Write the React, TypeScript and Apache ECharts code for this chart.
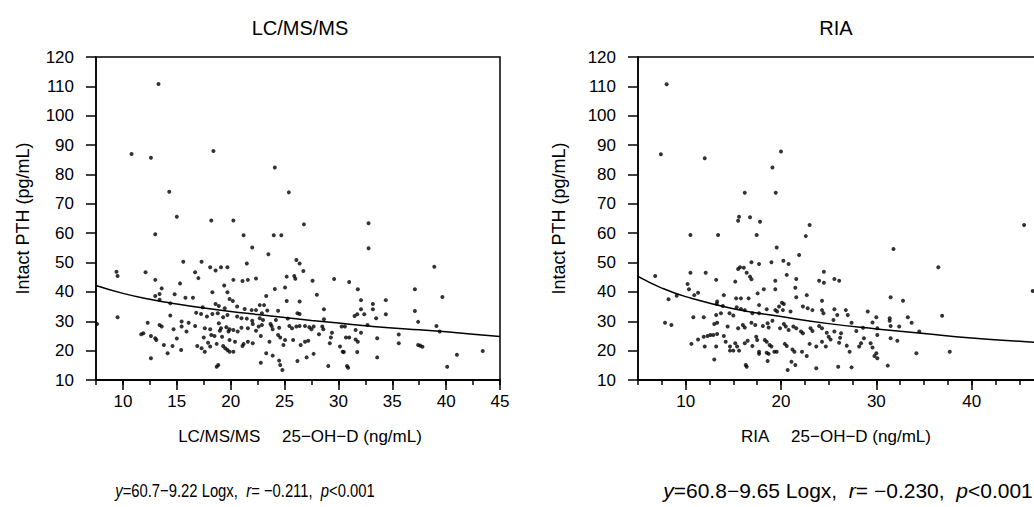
import React, { useEffect, useRef } from "react";
import * as echarts from "echarts";

// LC/MS/MS panel: 25-OH-D (x) vs intact PTH (y)
const lcX = [13.3,10.8,12.6,18.4,24.1,14.3,25.4,15.0,18.2,20.25,26.8,32.8,32.8,
13.0,21.2,24.0,24.7,22.0,23.5,15.6,17.3,21.5,26.1,26.4,26.75,18.1,18.6,19.1,19.7,16.7,17.0,12.1,9.4,9.5,20.25,21.1,21.6,22.35,25.2,25.9,26.0,13.0,15.3,19.4,24.1,25.05,13.6,13.4,13.0,13.4,14.8,15.8,16.5,14.4,18.3,19.7,19.9,20.2,20.6,21.3,21.95,22.35,22.7,23.1,23.3,23.4,22.9,25.2,26.4,26.2,26.4,
24.4,25.3,18.6,18.9,19.45,18.8,18.3,17.4,16.8,17.25,17.8,19.3,19.7,20.6,21.0,21.5,22.0,22.05,22.7,23.0,14.4,15.45,16.1,16.7,12.3,9.5,7.6,13.4,13.6,15.45,14.7,17.6,18.1,18.9,19.0,19.1,19.6,19.8,19.9,20.25,20.65,21.0,21.6,22.35,22.6,22.9,23.7,23.8,23.9,24.2,24.5,25.45,25.7,26.1,26.4,26.9,27.3,
11.7,11.9,12.6,13.0,13.1,13.8,14.6,15.0,15.9,16.9,17.5,17.3,17.6,17.9,18.1,18.7,18.2,18.5,19.2,19.3,19.5,19.7,19.9,20.25,19.9,20.4,21.2,21.1,21.6,22.05,22.8,23.6,24.4,24.6,25.05,24.9,25.8,26.5,26.9,27.2,12.6,14.15,15.4,18.85,18.7,22.8,23.3,23.9,24.5,24.6,24.8,26.2,27.05,
38.9,39.65,37.1,37.1,37.4,39.1,39.4,35.6,35.6,37.4,37.6,37.8,41.0,43.4,40.1,33.6,33.6,34.4,34.4,33.2,33.2,33.5,31.8,32.1,32.1,32.4,31.5,31.75,31.0,29.6,28.0,28.66,28.66,27.6,32.7,31.6,32.1,30.6,30.3,30.7,31.0,31.6,31.8,30.15,30.4,30.5,31.75,29.06,30.8,30.9,28.6,28.5,29.4,29.3,29.2,28.2,27.7,27.5,27.7];
const lcY = [110.8,87.0,85.7,88.0,82.4,74.1,73.9,65.6,64.3,64.3,63.0,63.4,54.9,
59.6,59.3,59.3,59.3,55.1,52.8,50.3,50.3,49.7,50.9,49.7,47.1,48.4,47.3,48.4,48.4,46.7,44.7,46.7,46.9,45.4,44.1,43.7,44.1,44.6,45.2,45.4,44.5,44.1,42.9,42.2,41.0,41.5,41.2,39.3,38.6,37.3,39.2,38.0,38.0,36.1,39.9,39.9,37.6,36.9,35.0,34.2,33.8,33.8,35.5,35.5,38.6,33.7,32.7,36.9,36.7,32.7,32.5,
33.6,30.9,35.9,35.2,34.4,32.7,32.5,34.8,32.9,32.5,31.6,31.4,32.1,31.6,31.0,30.9,30.2,29.1,31.0,30.4,32.0,29.9,29.5,28.4,29.5,31.4,29.1,28.7,28.2,28.2,27.3,27.6,27.3,29.3,26.8,27.6,28.0,26.5,27.3,27.0,26.5,27.8,27.6,26.8,28.2,28.7,29.1,28.4,27.3,30.4,27.8,28.4,27.6,28.2,28.4,28.4,28.0,
25.6,25.9,25.0,24.2,23.6,21.9,21.6,24.1,26.5,21.6,24.5,20.8,19.6,22.7,21.4,22.3,25.3,25.0,24.7,21.6,20.8,20.2,19.6,19.6,23.6,23.0,22.3,21.6,23.0,22.5,25.0,23.0,25.3,24.5,23.6,21.9,23.6,21.9,23.0,23.4,17.4,19.1,20.2,15.1,14.5,15.9,19.1,18.3,16.6,15.1,13.4,16.5,17.7,
48.6,38.3,40.9,33.5,29.8,28.4,26.5,25.5,22.5,21.9,21.7,21.3,18.6,19.9,14.5,24.2,17.7,37.2,32.4,35.9,34.1,31.0,40.9,37.2,34.1,32.4,31.8,32.4,43.4,44.4,39.0,34.1,30.7,43.8,28.7,27.0,26.1,28.2,28.2,24.5,24.5,23.8,23.0,21.4,19.6,19.5,19.5,14.8,14.8,14.2,27.3,28.2,26.1,24.5,22.5,25.6,28.2,27.3,18.9];

// RIA panel
const riaX = [8.0,7.4,12.0,20.0,19.1,16.2,19.45,15.6,15.5,16.75,17.8,23.0,10.5,13.4,17.45,22.6,19.55,21.9,16.9,17.7,19.0,20.25,20.8,15.5,15.7,16.1,16.4,16.75,16.9,24.5,10.5,12.1,20.6,6.8,13.2,15.2,19.4,21.6,24.0,24.5,10.2,10.35,18.2,19.4,21.5,11.3,10.9,17.55,9.06,14.0,15.3,15.8,16.6,22.7,21.6,8.2,24.3,13.3,13.26,20.1,20.3,19.8,20.2,17.7,18.5,19.4,19.6,22.3,22.8,23.3,24.3,24.45,21.0,13.9,13.7,15.35,15.8,16.2,14.6,15.0,17.0,17.7,
7.83,8.5,10.8,11.9,13.2,13.3,13.0,14.4,15.5,16.0,16.2,16.9,17.3,18.1,18.7,18.6,19.1,19.9,20.3,20.5,20.8,21.3,21.6,22.1,22.3,23.1,23.3,24.0,24.3,24.8,25.0,11.3,11.9,12.3,12.6,10.6,12.0,13.2,12.9,13.3,14.0,14.2,14.65,15.0,14.65,15.2,15.4,15.6,16.2,16.5,17.0,17.4,17.5,17.7,17.7,18.3,18.5,18.8,19.0,19.3,18.5,18.7,19.55,20.4,20.6,21.2,21.4,22.2,23.0,23.7,24.3,24.7,13.0,16.3,16.4,18.6,21.1,21.5,22.7,23.7,20.7,
31.8,36.5,45.5,46.4,25.6,26.1,31.5,32.8,36.9,25.6,26.8,27.0,29.1,30.0,29.6,31.4,31.4,33.3,33.7,32.4,31.5,30.1,30.1,27.4,27.9,28.6,34.5,31.5,32.2,28.7,28.4,28.2,29.4,29.6,26.9,27.2,26.1,26.2,25.2,30.0,29.8,30.1,34.2,37.7,31.2,27.4,26.0,25.5,25.9,25.6,26.3];
const riaY = [110.7,86.9,85.5,87.8,82.4,73.8,73.8,65.6,64.2,65.4,63.9,62.8,59.4,59.4,59.4,59.0,55.1,52.6,50.1,49.5,50.1,50.6,49.5,47.8,48.4,48.2,46.5,45.2,44.3,46.9,46.5,46.5,45.8,45.4,44.1,43.5,43.8,44.4,43.8,43.1,42.7,40.9,40.9,40.9,41.4,39.7,38.9,39.5,38.7,38.9,37.8,37.8,37.8,38.9,38.2,37.5,37.0,36.7,35.9,36.3,35.9,35.0,33.8,35.5,34.1,33.8,33.3,35.0,34.4,33.8,33.8,32.7,33.3,35.2,32.7,34.8,34.2,33.8,32.7,32.0,32.7,32.7,
29.5,28.7,31.4,31.4,32.1,29.5,29.1,28.2,27.6,28.7,27.9,29.5,28.7,28.4,27.9,29.3,30.2,27.6,29.1,28.2,27.0,28.2,27.6,26.5,25.9,27.6,26.7,28.4,27.6,26.1,24.7,23.8,24.7,25.0,25.3,22.3,21.4,21.4,25.3,25.7,25.0,23.0,21.4,20.0,20.0,22.5,21.4,20.0,22.5,23.4,21.6,24.7,23.6,19.6,18.9,23.6,23.0,21.9,21.4,19.6,19.3,18.9,19.6,22.3,21.6,20.4,19.6,19.6,22.3,21.4,23.0,21.4,17.0,15.1,14.5,16.5,16.2,15.1,18.2,14.0,13.4,
54.6,48.4,62.8,40.3,44.4,43.8,38.2,37.0,31.9,34.1,33.8,32.1,33.3,31.4,29.6,31.0,30.2,31.4,29.5,28.2,28.4,27.6,25.3,29.5,26.7,27.8,26.5,24.2,23.4,24.2,22.5,21.4,22.5,21.1,21.7,19.6,22.7,24.4,23.8,19.1,18.2,17.4,19.1,19.6,14.9,14.3,14.5,30.4,32.1,26.5,25.9];

// regression curves
const lcCurveX = [7.5,10,12.5,15,17.5,20,22.5,25,27.5,30,32.5,35,37.5,40,42.5,45];
const lcCurveY = [42.2,39.5,37.5,35.9,34.5,33.3,32.3,31.3,30.3,29.4,28.5,27.7,27.1,26.4,25.6,24.8];
const riaCurveX = [5,7.5,10,15,20,25,30,35,40,45,50];
const riaCurveY = [45.3,41.3,38.4,34.3,31.6,29.2,27.4,25.8,24.3,23.2,22.2];

const titles = ["LC/MS/MS", "RIA"];
const xNames = ["LC/MS/MS\u2003 25\u2212OH\u2212D (ng/mL)", "RIA\u2003 25\u2212OH\u2212D (ng/mL)"];
const yName = "Intact PTH (pg/mL)";
const equations = [
  "{i|y}=60.7\u22129.22 Logx,  {i|r}= \u22120.211,  {i|p}<0.001",
  "{i|y}=60.8\u22129.65 Logx,  {i|r}= \u22120.230,  {i|p}<0.001",
];

const FONT = "'Liberation Sans', Arial, sans-serif";

function pairs(xs: number[], ys: number[]) {
  return xs.map((x, i) => [x, ys[i]]);
}

export default function App() {
  const ref = useRef<HTMLDivElement>(null);
  useEffect(() => {
    const chart = echarts.init(ref.current!, null, { renderer: "svg" });
    const line = { show: true, lineStyle: { color: "#000", width: 1.5 } };
    const majorX = (grid: number, min: number, max: number, split: number) => ({
      type: "value", gridIndex: grid, min, max, splitNumber: split, position: "bottom", offset: 0,
      axisLine: line,
      axisTick: { show: true, inside: false, length: 10, lineStyle: { color: "#000", width: 1.5 } },
      axisLabel: { show: true, showMinLabel: false, showMaxLabel: grid === 0, color: "#000", fontSize: 17, fontFamily: FONT, margin: 13 },
      splitLine: { show: false },
    });
    const minorX = (grid: number, min: number, max: number) => ({
      type: "value", gridIndex: grid, min, max, interval: 2.5, position: "bottom", offset: 0,
      axisLine: line,
      axisTick: { show: true, inside: false, length: 5, lineStyle: { color: "#000", width: 1.5 } },
      axisLabel: { show: false },
      splitLine: { show: false },
    });
    const yAx = (grid: number, gap: number) => ({
      type: "value", gridIndex: grid, min: 10, max: 120, interval: 10,
      axisLine: line,
      axisTick: { show: true, inside: false, length: 10, lineStyle: { color: "#000", width: 1.5 } },
      axisLabel: { color: "#000", fontSize: 17, fontFamily: FONT, margin: 22 },
      splitLine: { show: false },
      name: yName, nameLocation: "middle", nameGap: gap, nameRotate: 90,
      nameTextStyle: { color: "#000", fontSize: 18, fontFamily: FONT },
    });
    const dot = { color: "#000" };
    const curve = { color: "#000", width: 1.5 };
    const gridBase = { top: 57, height: 323, show: true, borderColor: "#000", borderWidth: 1.5, backgroundColor: "transparent", containLabel: false, outerBoundsMode: "none" };
    const txt = (x: number, y: number, text: string, size: number) => ({
      type: "text", x, y, style: { text, fill: "#000", font: `${size}px ${FONT}`, align: "center", verticalAlign: "middle" },
    });
    const eq = (x: number, text: string, size: number, sx: number) => ({
      type: "text", x, y: 491, scaleX: sx,
      style: { text, fill: "#000", font: `${size}px ${FONT}`, align: "center", verticalAlign: "middle", rich: { i: { fontStyle: "italic", fontSize: size, fontFamily: FONT } } },
    });
    chart.setOption({
      animation: false,
      backgroundColor: "#fff",
      grid: [
        { ...gridBase, left: 96, width: 404 },
        { ...gridBase, left: 638, width: 429 },
      ],
      xAxis: [
        majorX(0, 7.5, 45, 7),
        minorX(0, 7.5, 45),
        majorX(1, 5, 50, 4),
        minorX(1, 5, 50),
      ],
      yAxis: [yAx(0, 64), yAx(1, 70)],
      series: [
        { type: "scatter", xAxisIndex: 0, yAxisIndex: 0, data: pairs(lcX, lcY), symbol: "circle", symbolSize: 4, itemStyle: dot },
        { type: "line", xAxisIndex: 0, yAxisIndex: 0, data: pairs(lcCurveX, lcCurveY), smooth: true, showSymbol: false, symbol: "none", lineStyle: curve },
        { type: "scatter", xAxisIndex: 2, yAxisIndex: 1, data: pairs(riaX, riaY), symbol: "circle", symbolSize: 4, itemStyle: dot },
        { type: "line", xAxisIndex: 2, yAxisIndex: 1, data: pairs(riaCurveX, riaCurveY), smooth: true, showSymbol: false, symbol: "none", lineStyle: curve },
      ],
      graphic: [
        txt(300, 28, titles[0], 20),
        txt(836, 28, titles[1], 20),
        txt(300, 436, xNames[0], 17),
        txt(836, 436, xNames[1], 17),
        eq(245, equations[0], 19, 0.78),
        eq(848, equations[1], 20, 1.05),
      ],
    });
    return () => chart.dispose();
  }, []);
  return <div ref={ref} style={{ position: "absolute", left: 0, top: 0, width: 1034, height: 507, background: "#fff" }} />;
}
